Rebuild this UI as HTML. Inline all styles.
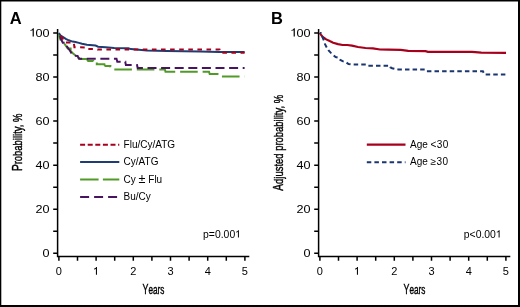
<!DOCTYPE html>
<html><head><meta charset="utf-8"><style>
html,body{margin:0;padding:0;background:#fff;}
svg{display:block;will-change:transform;}
text{font-family:"Liberation Sans",sans-serif;fill:#000;}
.t{font-size:11px;}
.ty{font-size:11.7px;}
.p{font-size:10.4px;}
.l{font-size:10px;}
.c{font-size:14px;}
.h{font-size:16.5px;font-weight:bold;}
</style></head><body>
<svg width="520" height="307" viewBox="0 0 520 307">
<rect x="0" y="0" width="520" height="307" fill="#000"/>
<rect x="1.3" y="1.5" width="516.7" height="303.5" fill="#fff"/>
<text x="9.8" y="24" class="h">A</text>
<text x="271" y="24" class="h">B</text>
<path d="M57.6,28.9 V256.5 H249.3" fill="none" stroke="#000" stroke-width="1.5"/>
<path d="M53.2,253.3H57.6M53.2,231.26H57.6M53.2,209.22H57.6M53.2,187.18H57.6M53.2,165.14H57.6M53.2,143.1H57.6M53.2,121.06H57.6M53.2,99.02H57.6M53.2,76.98H57.6M53.2,54.94H57.6M53.2,32.9H57.6M58.9,256.5V260.8M77.5,256.5V260.8M96.1,256.5V260.8M114.7,256.5V260.8M133.3,256.5V260.8M151.9,256.5V260.8M170.5,256.5V260.8M189.1,256.5V260.8M207.7,256.5V260.8M226.3,256.5V260.8M244.9,256.5V260.8" stroke="#000" stroke-width="1.5" fill="none"/>
<text transform="translate(49.6,256.95) scale(1.08,1)" text-anchor="end" class="ty">0</text>
<text transform="translate(49.6,212.87) scale(1.08,1)" text-anchor="end" class="ty">20</text>
<text transform="translate(49.6,168.79) scale(1.08,1)" text-anchor="end" class="ty">40</text>
<text transform="translate(49.6,124.71) scale(1.08,1)" text-anchor="end" class="ty">60</text>
<text transform="translate(49.6,80.63) scale(1.08,1)" text-anchor="end" class="ty">80</text>
<g transform="translate(49.6,36.55) scale(1.08,1)"><text x="0" y="0" text-anchor="end" class="ty">00</text><path d="M-14.61,0 L-14.61,-8.3 L-15.43,-8.3 L-15.84,-7.55 L-16.66,-6.84 L-17.77,-6.49 L-17.77,-5.73 L-16.43,-5.97 L-15.7,-6.38 L-15.7,0Z" fill="#000"/></g>
<text x="58.9" y="274.8" text-anchor="middle" class="t">0</text>
<path d="M96.95,274.8 L96.95,267 L96.18,267 L95.79,267.7 L95.02,268.37 L93.98,268.69 L93.98,269.41 L95.24,269.19 L95.92,268.81 L95.92,274.8Z" fill="#000"/>
<text x="133.3" y="274.8" text-anchor="middle" class="t">2</text>
<text x="170.5" y="274.8" text-anchor="middle" class="t">3</text>
<text x="207.7" y="274.8" text-anchor="middle" class="t">4</text>
<text x="244.9" y="274.8" text-anchor="middle" class="t">5</text>
<text transform="translate(153.5,293.6) scale(0.634,1)" text-anchor="middle" class="c" stroke="#000" stroke-width="0.4">Y<tspan font-size="13">ears</tspan></text>
<text transform="translate(21.7,142.3) rotate(-90) scale(0.727,1)" text-anchor="middle" class="c" stroke="#000" stroke-width="0.4">P<tspan font-size="13">robability, %</tspan></text>
<text x="203.1" y="237.5" class="p">p=0.00</text>
<path d="M238.89,237.5 L238.89,230.13 L238.16,230.13 L237.8,230.79 L237.07,231.42 L236.08,231.73 L236.08,232.4 L237.28,232.2 L237.92,231.83 L237.92,237.5Z" fill="#000"/>
<path d="M318.6,28.9 V256.5 H510.3" fill="none" stroke="#000" stroke-width="1.5"/>
<path d="M314.2,253.3H318.6M314.2,231.26H318.6M314.2,209.22H318.6M314.2,187.18H318.6M314.2,165.14H318.6M314.2,143.1H318.6M314.2,121.06H318.6M314.2,99.02H318.6M314.2,76.98H318.6M314.2,54.94H318.6M314.2,32.9H318.6M319.9,256.5V260.8M338.5,256.5V260.8M357.1,256.5V260.8M375.7,256.5V260.8M394.3,256.5V260.8M412.9,256.5V260.8M431.5,256.5V260.8M450.1,256.5V260.8M468.7,256.5V260.8M487.3,256.5V260.8M505.9,256.5V260.8" stroke="#000" stroke-width="1.5" fill="none"/>
<text transform="translate(310.6,256.95) scale(1.08,1)" text-anchor="end" class="ty">0</text>
<text transform="translate(310.6,212.87) scale(1.08,1)" text-anchor="end" class="ty">20</text>
<text transform="translate(310.6,168.79) scale(1.08,1)" text-anchor="end" class="ty">40</text>
<text transform="translate(310.6,124.71) scale(1.08,1)" text-anchor="end" class="ty">60</text>
<text transform="translate(310.6,80.63) scale(1.08,1)" text-anchor="end" class="ty">80</text>
<g transform="translate(310.6,36.55) scale(1.08,1)"><text x="0" y="0" text-anchor="end" class="ty">00</text><path d="M-14.61,0 L-14.61,-8.3 L-15.43,-8.3 L-15.84,-7.55 L-16.66,-6.84 L-17.77,-6.49 L-17.77,-5.73 L-16.43,-5.97 L-15.7,-6.38 L-15.7,0Z" fill="#000"/></g>
<text x="319.9" y="274.8" text-anchor="middle" class="t">0</text>
<path d="M357.95,274.8 L357.95,267 L357.18,267 L356.79,267.7 L356.02,268.37 L354.98,268.69 L354.98,269.41 L356.24,269.19 L356.92,268.81 L356.92,274.8Z" fill="#000"/>
<text x="394.3" y="274.8" text-anchor="middle" class="t">2</text>
<text x="431.5" y="274.8" text-anchor="middle" class="t">3</text>
<text x="468.7" y="274.8" text-anchor="middle" class="t">4</text>
<text x="505.9" y="274.8" text-anchor="middle" class="t">5</text>
<text transform="translate(414.5,293.6) scale(0.634,1)" text-anchor="middle" class="c" stroke="#000" stroke-width="0.4">Y<tspan font-size="13">ears</tspan></text>
<text transform="translate(282.7,142.8) rotate(-90) scale(0.727,1)" text-anchor="middle" class="c" stroke="#000" stroke-width="0.4">A<tspan font-size="13">djusted probability, %</tspan></text>
<text x="463.8" y="237.5" class="p">p&lt;0.00</text>
<path d="M499.59,237.5 L499.59,230.13 L498.86,230.13 L498.5,230.79 L497.77,231.42 L496.78,231.73 L496.78,232.4 L497.98,232.2 L498.62,231.83 L498.62,237.5Z" fill="#000"/>
<g fill="none" stroke-width="2">
<path d="M80.1,144.7H119.3" stroke="#A6001C" stroke-dasharray="5 2.6"/>
<path d="M80.1,162H119.3" stroke="#1F3C73"/>
<path d="M80.1,179.6H119.3" stroke="#509B28" stroke-dasharray="18.5 4.3"/>
<path d="M80.1,197H119.3" stroke="#48145F" stroke-dasharray="9 5"/>
<path d="M366.8,144.7H405.5" stroke="#A6001C" stroke-width="2.2"/>
<path d="M366.8,162.2H405.5" stroke="#1A3570" stroke-dasharray="4.5 3.1"/>
<polyline points="59,33.5 58.9,35.9 60.4,39.8 61.9,41.2 63.8,43.2 65.8,45.6 67.7,48.6 70.6,48.6 70.6,51 73.1,53.4 75.5,55.4 78.5,55.4 78.5,56.4 79.1,59.1 87.2,59.1 87.2,59.6 88.2,61.1 93.2,61.1 93.2,61.6 96.8,61.6 96.8,64.2 104.3,64.2 104.3,64.7 105.4,66 110.4,66 110.4,66.7 112.4,69.5 164.9,69.5 165.5,71.7 209,71.7 209.7,74 217.6,74 219,76.5 244.6,76.5" stroke="#509B28" stroke-dasharray="17.6 4.9" stroke-dashoffset="10.43"/>
<polyline points="59,33 59.9,35.4 60.9,38.8 62.8,42.7 65.8,42.7 65.8,43.6 66.7,46.1 68.7,49 70.2,51 71.6,53.4 72.6,55.6 77.6,55.9 78.6,58.3 80.1,58.8 116.5,58.8 117.3,61.8 125.3,61.8 125.3,62.2 125.9,64.9 137,64.9 137.7,67.9 244.6,67.9" stroke="#48145F" stroke-dasharray="9 4.6" stroke-dashoffset="10.34"/>
<polyline points="58.9,32.9 59.7,34.3 60.9,35.9 62.8,36.8 65.8,38.8 68.7,40.3 72.6,41.6 75.5,42.1 78.9,42.9 82,43.8 86.9,44.7 95.6,45.5 98.1,46.7 105.5,47.3 114.2,47.9 128.4,48.3 130.9,49.1 146.9,50.6 166.7,51.1 200,51.5 219,52.1 244.6,52.1" stroke="#1F3C73"/>
<polyline points="59.2,33 59.9,33 60.4,34.9 62.8,38.8 63.8,40.3 65,42.6 73.8,42.6 74.4,47.2 86,47.4 86.8,48.9 96.5,49.1 97.5,49.6 219.5,49.6 220.5,52.8 244.6,52.8" stroke="#A6001C" stroke-dasharray="4.6 4.5" stroke-dashoffset="5.6"/>
<polyline points="319.7,32.9 320.9,34.7 322.7,37 326.2,39.4 329.7,41.1 333.2,42.7 338,44.1 342.6,45 347.3,45 352,45.6 358,47 365.5,48 372.9,48.4 380,49.5 388.4,49.7 400.8,49.9 408.2,50.9 425.5,51.1 428,51.8 448.5,51.8 472,51.9 481.3,52.6 506,52.8" stroke="#A6001C" stroke-width="2.2"/>
<polyline points="319.7,32.9 320.9,33.2 322.7,37.6 323.9,40.6 325,44.1 326.8,47.6 328.6,50.5 330.9,52.9 332.7,54.6 335.6,57 338.5,57.6 340.3,59.9 342.6,61.1 346.2,62.3 348.5,64 353.2,64.6 366.8,64.6 367.8,65.7 389.6,65.7 390.2,67.2 392.1,68.2 398.3,69.5 425.5,69.5 426.7,71.2 482.9,71.2 484.4,74.4 505.8,74.4" stroke="#1A3570" stroke-dasharray="4.5 3.1" stroke-dashoffset="3.06"/>
</g>
<text x="123.6" y="147.9" class="l">Flu/Cy/ATG</text>
<text x="123.6" y="165.2" class="l">Cy/ATG</text>
<text x="123.6" y="182.6" class="l">Cy <tspan style="font-size:12.6px">±</tspan> Flu</text>
<text x="123.6" y="199.9" class="l">Bu/Cy</text>
<text x="410" y="147.9" class="l">Age <tspan letter-spacing="0.4">&lt;30</tspan></text>
<text x="410" y="164.6" class="l">Age <tspan letter-spacing="0.4">≥30</tspan></text>
</svg>
</body></html>
